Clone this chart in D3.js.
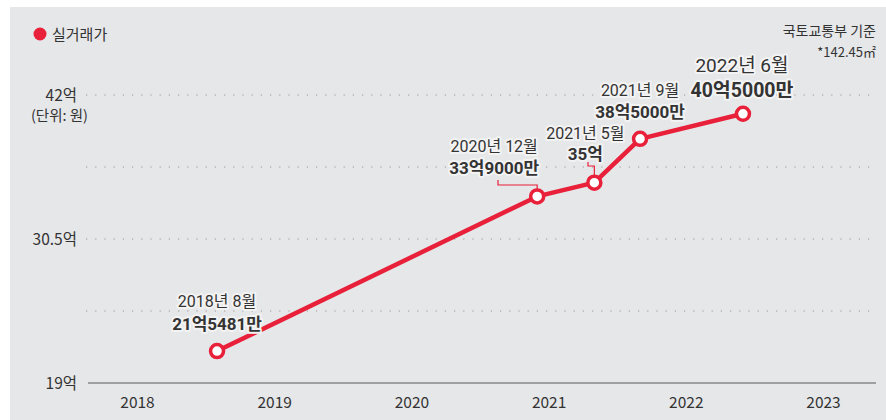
<!DOCTYPE html>
<html><head><meta charset="utf-8">
<script src="https://cdn.jsdelivr.net/npm/d3@7"></script>
<style>
body{margin:0;background:#fff;}
svg{display:block;}
text{font-family:"Liberation Sans Narrow","Noto Sans CJK KR",sans-serif;fill:#333;}
.kr{font-family:"Noto Sans CJK KR","Noto Sans",sans-serif;}
.lbl{font-family:"Roboto","Noto Sans CJK KR",sans-serif;}
.halo{paint-order:stroke;stroke:#f3f3f3;stroke-width:4px;stroke-linejoin:round;}
</style></head><body>
<div id="chart"></div>
<script>
const dates = ["2018-08","2020-12","2021-05","2021-09","2022-06"];
const values = [21.5481, 33.9, 35, 38.5, 40.5];
const dateLabels = ["2018년 8월","2020년 12월","2021년 5월","2021년 9월","2022년 6월"];
const valueLabels = ["21억5481만","33억9000만","35억","38억5000만","40억5000만"];
const yTicks = [19, 24.75, 30.5, 36.25, 42];
const yTickLabels = {19:"19억", 30.5:"30.5억", 42:"42억"};
const xYears = [2018,2019,2020,2021,2022,2023];

const W=886,H=420;
const svg=d3.select("#chart").append("svg").attr("width",W).attr("height",H);
svg.append("rect").attr("x",10).attr("y",7).attr("width",W-10).attr("height",H-7).attr("fill","#e6e7e9");

const toNum = s => { const [yy,m]=s.split("-").map(Number); return yy+(m-1)/12; };
const x=d3.scaleLinear().domain([2018,2023]).range([137,823]);
const y=d3.scaleLinear().domain([19,42]).range([383,95]);

// gridlines
svg.append("g").selectAll("line").data(yTicks.filter(d=>d!==19)).join("line")
  .attr("x1",86).attr("x2",872).attr("y1",d=>y(d)).attr("y2",d=>y(d))
  .attr("stroke","#9a9a9a").attr("stroke-width",1.2).attr("stroke-dasharray","1.2,8");
svg.append("line").attr("x1",88).attr("x2",876).attr("y1",y(19)).attr("y2",y(19))
  .attr("stroke","#888").attr("stroke-width",1.5);

// y labels
svg.append("g").selectAll("text").data(Object.keys(yTickLabels).map(Number)).join("text")
  .attr("x",77).attr("y",d=>y(d)+6).attr("text-anchor","end").attr("font-size",15.5)
  .text(d=>yTickLabels[d]);
svg.append("text").attr("x",88).attr("y",121).attr("text-anchor","end").attr("font-size",14.5)
  .text("(단위: 원)");

// x axis
const xAxis=d3.axisBottom(x).tickValues(xYears).tickFormat(d3.format("d")).tickSize(0).tickPadding(14);
const gx=svg.append("g").attr("transform",`translate(0,${y(19)})`).call(xAxis);
gx.select(".domain").remove();
gx.selectAll("text").attr("font-size",15.5).attr("fill","#333")
  .style("font-family","'Liberation Sans Narrow','Noto Sans CJK KR',sans-serif");

// legend
svg.append("circle").attr("cx",40).attr("cy",34).attr("r",6.5).attr("fill","#e8203a");
svg.append("text").attr("class","kr").attr("x",52).attr("y",40).attr("font-size",15).text("실거래가");
svg.append("text").attr("class","kr").attr("x",876).attr("y",36).attr("text-anchor","end").attr("font-size",14).text("국토교통부 기준");
svg.append("text").attr("x",876).attr("y",57).attr("text-anchor","end").attr("font-size",13).text("*142.45㎡");

const data=dates.map((d,i)=>({t:toNum(d),v:values[i],dl:dateLabels[i],vl:valueLabels[i]}));

// connectors
const red="#e8203a";
const c1=d3.path(); c1.moveTo(498,180); c1.lineTo(498,185); c1.lineTo(x(data[1].t),185); c1.lineTo(x(data[1].t),y(data[1].v)-6);
svg.append("path").attr("d",c1.toString()).attr("fill","none").attr("stroke",red).attr("stroke-width",1.2);
const c2=d3.path(); c2.moveTo(588,162); c2.lineTo(588,166); c2.lineTo(x(data[2].t),166); c2.lineTo(x(data[2].t),y(data[2].v)-6);
svg.append("path").attr("d",c2.toString()).attr("fill","none").attr("stroke",red).attr("stroke-width",1.2);

// line
const line=d3.line().x(d=>x(d.t)).y(d=>y(d.v));
svg.append("path").datum(data).attr("d",line).attr("fill","none").attr("stroke",red).attr("stroke-width",4.5).attr("stroke-linejoin","round");
svg.append("g").selectAll("circle").data(data).join("circle")
  .attr("cx",d=>x(d.t)).attr("cy",d=>y(d.v)).attr("r",6.5)
  .attr("fill","#fff").attr("stroke",red).attr("stroke-width",3.5);

// labels: offsets relative to point
const lab=[
  {dx:0,dy1:-44,dy2:-21,fs1:16,fs2:17},
  {dx:-43,dy1:-44,dy2:-22,fs1:16,fs2:17},
  {dx:-9,dy1:-44,dy2:-23,fs1:16,fs2:17},
  {dx:0,dy1:-43,dy2:-21,fs1:16,fs2:17},
  {dx:-1,dy1:-42,dy2:-17,fs1:19,fs2:19.5}
];
const lg=svg.append("g");
data.forEach((d,i)=>{
  const cx=x(d.t)+lab[i].dx, cy=y(d.v);
  lg.append("text").attr("class","halo lbl").attr("x",cx).attr("y",cy+lab[i].dy1).attr("text-anchor","middle")
    .attr("font-size",lab[i].fs1).text(d.dl);
  lg.append("text").attr("class","halo lbl").attr("x",cx).attr("y",cy+lab[i].dy2).attr("text-anchor","middle")
    .attr("font-size",lab[i].fs2).attr("font-weight","bold").text(d.vl);
});
</script></body></html>
